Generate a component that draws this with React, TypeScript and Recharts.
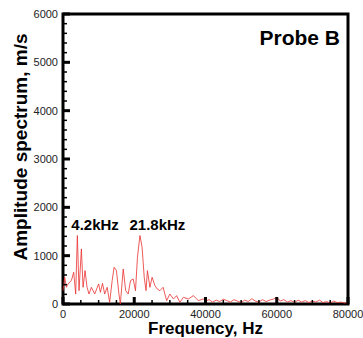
import React from "react";
import { LineChart, Line, XAxis, YAxis, ReferenceArea, ReferenceDot } from "recharts";

// frequency (Hz) and amplitude (m/s)
const freqs = [
  0, 470, 940, 1400, 2350, 3000, 3560, 4030, 4500, 5160, 5630, 6190, 6750, 7300, 7970, 8900,
  10000, 10500, 11100, 11700, 12400, 13100, 13800, 14350, 15000, 15700, 16100, 16900, 17600,
  18300, 18950, 19700, 20350, 20900, 21600, 22200, 22800, 23300, 23700, 24400, 25000, 25800,
  26450, 27200, 28100, 29100, 30000, 31000, 31900, 32800, 33800, 35200, 36600, 38000, 39400,
  40000, 41000, 42000, 43000, 44000, 45000, 46000, 47000, 48000, 49000, 50000, 51000, 52000,
  53000, 54000, 55000, 56000, 57000, 58000, 59000, 60000, 61000, 62000, 63000, 64000, 65000,
  66000, 67000, 68000, 69000, 70000, 71000, 72000, 73000, 74000, 75000, 76000, 77000, 78000,
  79000, 80000,
];
const amps = [
  276, 553, 345, 415, 484, 656, 207, 1417, 276, 1140, 345, 691, 345, 207, 345, 207,
  415, 242, 428, 207, 345, 35, 484, 760, 691, 207, 0, 725, 276,
  207, 484, 518, 276, 967, 1417, 1175, 553, 276, 691, 345, 553, 380,
  311, 276, 345, 69, 207, 104, 173, 35, 138, 104, 173, 69, 104,
  60, 90, 40, 80, 50, 100, 70, 40, 90, 60, 30, 80, 50,
  110, 60, 40, 90, 50, 80, 100, 140, 60, 90, 40, 70, 30,
  80, 40, 70, 30, 60, 40, 80, 30, 50, 20, 60, 30, 40,
  20, 30,
];
const xTicks = [0, 5000, 10000, 15000, 20000, 25000, 30000, 35000, 40000, 45000, 50000, 55000, 60000, 65000, 70000, 75000, 80000];
const yTicks = [
  0, 200, 400, 600, 800, 1000, 1200, 1400, 1600, 1800, 2000, 2200, 2400, 2600, 2800, 3000,
  3200, 3400, 3600, 3800, 4000, 4200, 4400, 4600, 4800, 5000, 5200, 5400, 5600, 5800, 6000,
];
const peaks = [
  { label: "4.2kHz", f: 9000, a: 1540 },
  { label: "21.8kHz", f: 26500, a: 1540 },
];

const data = freqs.map((f, i) => ({ f, a: amps[i] }));
const font = "Arial, 'Liberation Sans', sans-serif";

const XTick = (props: any) => {
  const { x, y, payload } = props;
  const major = payload.value % 20000 === 0;
  return (
    <g>
      <line x1={x} x2={x} y1={y} y2={y - (major ? 7 : 4)} stroke="#000" strokeWidth={major ? 3 : 1.5} />
      {major && (
        <text x={x} y={y + 14} textAnchor="middle" fontSize={11} fill="#222" fontFamily={font}>
          {payload.value}
        </text>
      )}
    </g>
  );
};

const YTick = (props: any) => {
  const { x, y, payload } = props;
  const major = payload.value % 1000 === 0;
  return (
    <g>
      <line x1={x} x2={x + (major ? 7 : 4)} y1={y} y2={y} stroke="#000" strokeWidth={major ? 3 : 1.5} />
      {major && (
        <text x={x - 5} y={y + 4} textAnchor="end" fontSize={11} fill="#222" fontFamily={font}>
          {payload.value}
        </text>
      )}
    </g>
  );
};

const App: React.FC = () => {
  return (
    <div style={{ position: "absolute", left: 0, top: 0, background: "#fff" }}>
      <LineChart width={363} height={338} data={data} margin={{ top: 14, right: 15, left: 0, bottom: 0 }}>
        <XAxis
          dataKey="f"
          type="number"
          domain={[0, 80000]}
          ticks={xTicks}
          interval={0}
          height={34}
          axisLine={false}
          tickLine={false}
          tickSize={0}
          tickMargin={0}
          tick={<XTick />}
          label={{
            content: (p: any) => {
              const vb = p.viewBox;
              return (
                <text x={vb.x + vb.width / 2} y={vb.y + 30} textAnchor="middle" fontSize={17} fontWeight="bold" fill="#000" fontFamily={font}>
                  Frequency, Hz
                </text>
              );
            },
          }}
        />
        <YAxis
          type="number"
          domain={[0, 6000]}
          ticks={yTicks}
          interval={0}
          width={63}
          axisLine={false}
          tickLine={false}
          tickSize={0}
          tickMargin={0}
          tick={<YTick />}
          label={{
            content: (p: any) => {
              const vb = p.viewBox;
              const cy = vb.y + vb.height / 2 - 12;
              return (
                <text x={27} y={cy} transform={`rotate(-90, 27, ${cy})`} textAnchor="middle" fontSize={19} fontWeight="bold" fill="#000" fontFamily={font}>
                  Amplitude spectrum, m/s
                </text>
              );
            },
          }}
        />
        <Line
          dataKey="a"
          type="linear"
          stroke="#e8302f"
          strokeWidth={0.8}
          dot={false}
          isAnimationActive={false}
        />
        {peaks.map((p) => (
          <ReferenceDot
            key={p.label}
            x={p.f}
            y={p.a}
            r={0}
            fill="none"
            stroke="none"
            label={{
              content: (lp: any) => {
                const vb = lp.viewBox;
                const cx = vb.cx ?? vb.x + (vb.width || 0) / 2;
                const cy = vb.cy ?? vb.y + (vb.height || 0) / 2;
                return (
                  <text x={cx} y={cy} textAnchor="middle" fontSize={15} fontWeight="bold" fill="#000" fontFamily={font}>
                    {p.label}
                  </text>
                );
              },
            }}
          />
        ))}
        <ReferenceArea x1={0} x2={80000} y1={0} y2={6000} fill="none" stroke="#000" strokeWidth={3} ifOverflow="visible" />
        <ReferenceDot
          x={80000}
          y={6000}
          r={0}
          fill="none"
          stroke="none"
          label={{
            content: (lp: any) => {
              const vb = lp.viewBox;
              const cx = vb.cx ?? vb.x;
              const cy = vb.cy ?? vb.y;
              return (
                <text x={cx - 8} y={cy + 31} textAnchor="end" fontSize={21} fontWeight="bold" fill="#000" fontFamily={font}>
                  Probe B
                </text>
              );
            },
          }}
        />
      </LineChart>
    </div>
  );
};

export default App;
